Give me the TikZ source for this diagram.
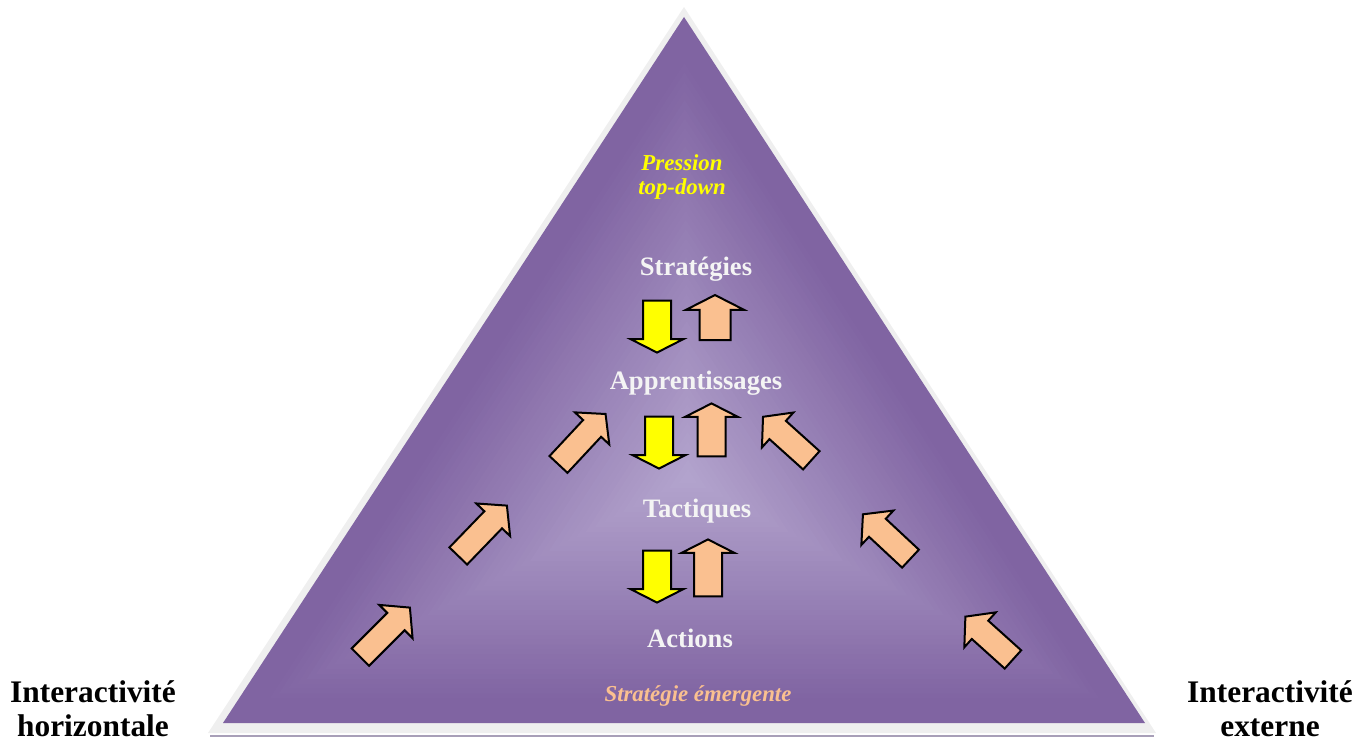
\documentclass[tikz,border=0pt]{standalone}
\usepackage{fontspec}
\setmainfont{Liberation Serif}
\usepackage{xcolor}
\usepackage{tikz}
\usetikzlibrary{shapes.arrows,calc}
\definecolor{cPyramid}{HTML}{8064A2}
\definecolor{cGlow}{HTML}{B4A5CE}
\definecolor{cBevel}{HTML}{EFEFEF}
\definecolor{cBevelB}{HTML}{A89FB8}
\definecolor{cDown}{HTML}{FFFF00}
\definecolor{cUp}{HTML}{FAC090}
\definecolor{cLevel}{HTML}{F4F4F4}

\begin{document}
\begin{tikzpicture}[
  x=0.5pt,y=-0.5pt,
  level/.style={font=\fontsize{13.3}{15}\selectfont\bfseries,text=cLevel,anchor=base,inner sep=0pt},
  side/.style={font=\fontsize{15.7}{17}\selectfont\bfseries,align=center,inner sep=0pt},
  note/.style={font=\fontsize{11.4}{12}\selectfont\bfseries\itshape,align=center,inner sep=0pt},
  blockarrow/.style={single arrow,draw=black,line width=1pt,inner sep=0pt,single arrow head indent=0pt},
  vert/.style={blockarrow,inner ysep=6.5pt,single arrow head extend=6.25pt,single arrow tip angle=126},
  down/.style={vert,fill=cDown,rotate=-90},
  up/.style={vert,fill=cUp,rotate=90},
  lateral/.style={blockarrow,fill=cUp,inner ysep=5.65pt,single arrow head extend=5.6pt,single arrow tip angle=100},
]
\useasboundingbox (0,0) rectangle (1371,742);

% =====================================================================
% PYRAMID (bevelled frame + purple body with a path gradient)
% =====================================================================
\coordinate (apex)  at (684,17);
\coordinate (left)  at (223,723);
\coordinate (right) at (1145,723);
\coordinate (ctr)   at (688,478);

\fill[cBevel] (684,7) -- (208,733) -- (1156,733) -- cycle;
\draw[cBevelB,line width=1.2pt] (210,736) -- (1154,736);
% nested triangles, dark at the rim and light towards the centre
\foreach \k in {0,...,49}{
  \pgfmathsetmacro\s{1-\k/50}
  \pgfmathtruncatemacro\pct{max(0,100*(1-\s/0.92))}
  \fill[cGlow!\pct!cPyramid] ($(ctr)!\s!(apex)$) -- ($(ctr)!\s!(left)$) -- ($(ctr)!\s!(right)$) -- cycle;
}

% =====================================================================
% LEVELS
% =====================================================================
\node[note,text=cDown] (pression) at (682,177) {Pression\\top-down};
\node[level] (strat) at (696,276) {Stratégies};
\node[level] (appr)  at (696,390) {Apprentissages};
\node[level] (tact)  at (697,518) {Tactiques};
\node[level] (act)   at (690,648) {Actions};
\node[note,text=cUp,anchor=base] (emerg) at (698,702) {Stratégie émergente};

% =====================================================================
% VERTICAL ARROWS between the levels
% =====================================================================
\node[down,minimum height=26pt] (dn1) at (657,323) {};
\node[up,minimum height=22.5pt,inner ysep=7.25pt,single arrow head extend=6.75pt] (up1) at (715,321.5) {};
\node[down,minimum height=26pt] (dn2) at (659,439) {};
\node[up,minimum height=26.5pt] (up2) at (711.5,433.5) {};
\node[down,minimum height=26pt] (dn3) at (657,573) {};
\node[up,minimum height=28.5pt] (up3) at (708,571.5) {};

% =====================================================================
% LATERAL ARROWS (interactivity from both sides)
% =====================================================================
\node[lateral,minimum height=35pt,rotate=45] (lh1) at (381.5,636) {};
\node[lateral,minimum height=35pt,rotate=46] (lh2) at (479,534.5) {};
\node[lateral,minimum height=34.5pt,rotate=47] (lh3) at (578.5,443) {};
\node[lateral,minimum height=32.5pt,rotate=138] (rh1) at (791,442) {};
\node[lateral,minimum height=32.5pt,rotate=137] (rh2) at (890.5,540) {};
\node[lateral,minimum height=32pt,rotate=138] (rh3) at (993,641.5) {};

% =====================================================================
% SIDE LABELS
% =====================================================================
\node[side] (horiz)   at (93,709)   {Interactivité\\horizontale};
\node[side] (externe) at (1270,709) {Interactivité\\externe};

\end{tikzpicture}
\end{document}
